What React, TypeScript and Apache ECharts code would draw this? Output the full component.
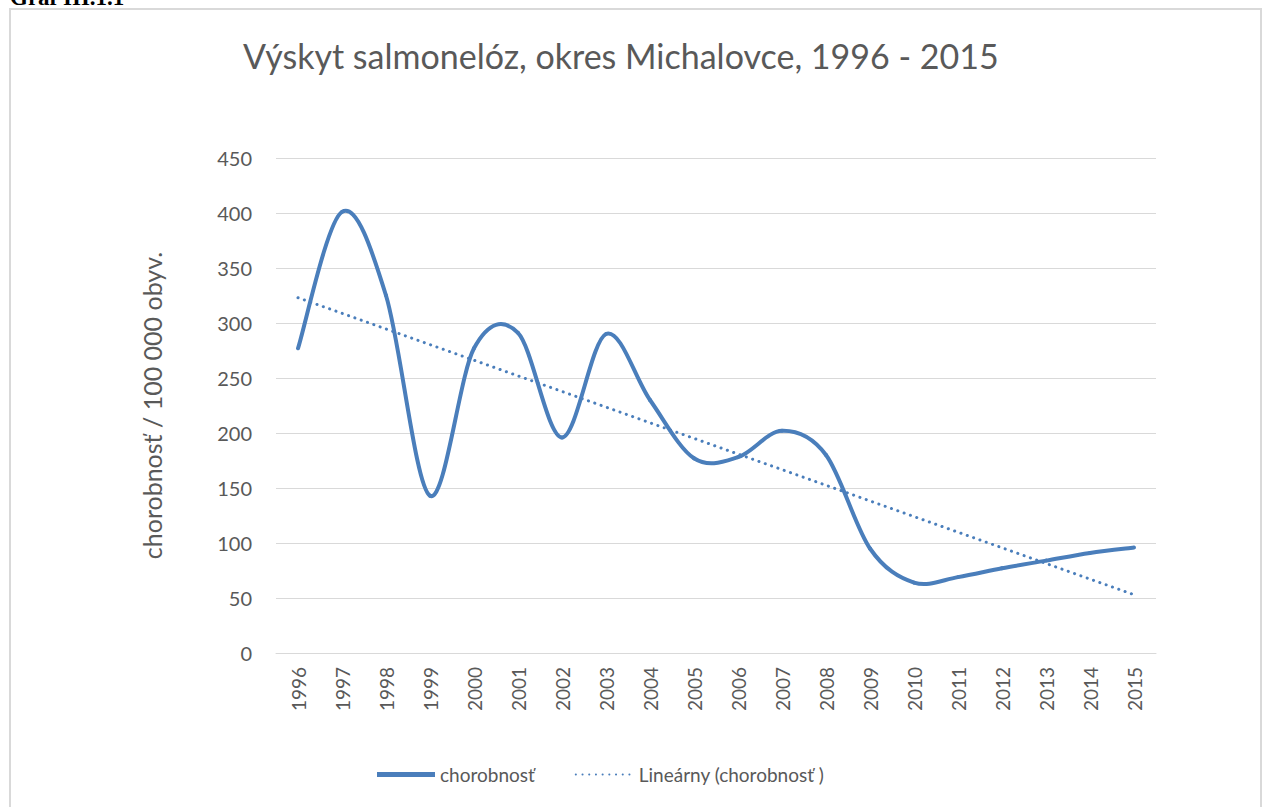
import React, { useEffect, useRef } from "react";
import * as echarts from "echarts";

const years = ["1996","1997","1998","1999","2000","2001","2002","2003","2004","2005","2006","2007","2008","2009","2010","2011","2012","2013","2014","2015"];
const incidence = [277, 401, 325, 143, 277, 291, 196, 290, 230, 177, 178, 202, 180, 95, 64, 69, 77, 84, 91, 96];
const trendEnds = [323, 53];
const yTicks = { min: 0, max: 450, interval: 50 };

const titleText = "Výskyt salmonelóz, okres Michalovce, 1996 - 2015";
const yName = "chorobnosť / 100 000 obyv.";
const seriesName = "chorobnosť";
const trendName = "Lineárny (chorobnosť )";
const caption = "Graf III.1.1";

const BLUE = "#4A7EBB";
const TEXT = "#595959";
const FONT = "Lato, 'Open Sans', sans-serif";

export default function App() {
  const ref = useRef<HTMLDivElement>(null);
  useEffect(() => {
    if (!ref.current) return;
    const chart = echarts.init(ref.current, undefined, { renderer: "svg" });
    const trendData = years.map((_, i) => (i === 0 ? trendEnds[0] : i === years.length - 1 ? trendEnds[1] : null));
    const n = incidence.length;
    const renderSegment = (params: any, api: any) => {
      const i = params.dataIndex;
      if (i >= n - 1) return null;
      const pt = (k: number) => {
        const kk = Math.max(0, Math.min(n - 1, k));
        return api.coord([kk, incidence[kk]]);
      };
      const p0 = pt(i - 1);
      const p1 = pt(i);
      const p2 = pt(i + 1);
      const p3 = pt(i + 2);
      const t = 1 / 6;
      return {
        type: "bezierCurve",
        shape: {
          x1: p1[0],
          y1: p1[1],
          cpx1: p1[0] + (p2[0] - p0[0]) * t,
          cpy1: p1[1] + (p2[1] - p0[1]) * t,
          cpx2: p2[0] - (p3[0] - p1[0]) * t,
          cpy2: p2[1] - (p3[1] - p1[1]) * t,
          x2: p2[0],
          y2: p2[1],
        },
        style: { stroke: BLUE, lineWidth: 4, fill: "none", lineCap: "round" },
      };
    };
    chart.setOption({
      animation: false,
      backgroundColor: "#ffffff",
      title: {
        text: titleText,
        left: 238,
        top: 33,
        textStyle: { fontFamily: FONT, fontSize: 34, fontWeight: "normal", color: TEXT },
      },
      graphic: [
        {
          type: "rect",
          shape: { x: 10, y: 9, width: 1251, height: 820 },
          style: { fill: "none", stroke: "#D9D9D9", lineWidth: 2 },
          silent: true,
        },
        {
          type: "text",
          x: 10,
          y: 9,
          style: {
            text: caption,
            fontFamily: "'Liberation Serif', serif",
            fontWeight: "bold",
            fontSize: 23,
            fill: "#000",
            textVerticalAlign: "bottom",
          },
        },
      ],
      legend: {
        bottom: 18,
        left: 372,
        itemWidth: 58,
        itemHeight: 12,
        itemGap: 40,
        textStyle: { fontFamily: FONT, fontSize: 19, color: TEXT },
        data: [
          { name: seriesName, icon: "path://M0,0 H58 V5 H0 Z", itemStyle: { color: BLUE } },
          { name: trendName, itemStyle: { opacity: 0 } },
        ],
      },
      grid: { left: 276, right: 107, top: 158, bottom: 154, containLabel: false },
      xAxis: {
        type: "category",
        data: years,
        boundaryGap: true,
        axisLine: { lineStyle: { color: "#D9D9D9", width: 1 } },
        axisTick: { show: false },
        axisLabel: { rotate: 90, color: TEXT, fontFamily: FONT, fontSize: 19, margin: 14, interval: 0 },
      },
      yAxis: {
        type: "value",
        min: yTicks.min,
        max: yTicks.max,
        interval: yTicks.interval,
        name: yName,
        nameLocation: "middle",
        nameGap: 112,
        nameTextStyle: { fontFamily: FONT, fontSize: 25, color: TEXT },
        axisLine: { show: false },
        axisTick: { show: false },
        axisLabel: { color: TEXT, fontFamily: FONT, fontSize: 20, margin: 24 },
        splitLine: { lineStyle: { color: "#D9D9D9", width: 1 } },
      },
      series: [
        {
          name: seriesName,
          type: "custom",
          data: incidence.map((v, i) => [i, v]),
          encode: { x: 0, y: 1 },
          renderItem: renderSegment,
          itemStyle: { color: BLUE },
          z: 3,
        },
        {
          name: trendName,
          type: "line",
          data: trendData,
          connectNulls: true,
          showSymbol: false,
          symbol: "none",
          lineStyle: { color: BLUE, width: 3, type: [0.1, 6.6], cap: "round" },
          itemStyle: { color: BLUE },
          z: 2,
        },
      ],
    });
    return () => chart.dispose();
  }, []);
  return (
    <div style={{ position: "fixed", left: 0, top: 0, width: 1263, height: 807, background: "#fff" }}>
      <div ref={ref} style={{ width: 1263, height: 807 }} />
    </div>
  );
}
